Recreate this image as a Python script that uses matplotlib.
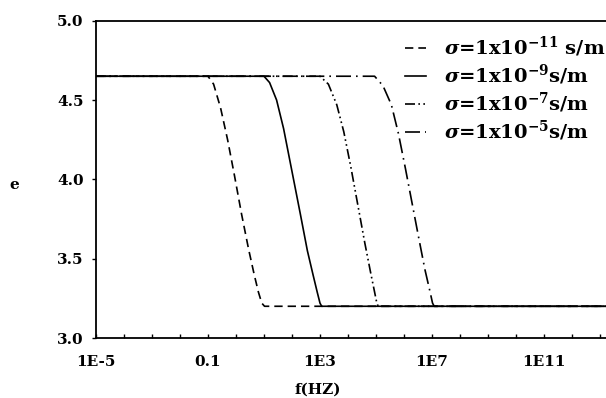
import numpy as np
import matplotlib
matplotlib.use('Agg')
import matplotlib.pyplot as plt

plt.rcParams['font.family'] = ['DejaVu Serif']
plt.rcParams['font.weight'] = 'bold'
plt.rcParams['mathtext.fontset'] = 'dejavuserif'
plt.rcParams['mathtext.default'] = 'bf'

# log10(f) and e, one pair per conductivity
logf_11 = [-5, -1.0, -0.8, -0.55, -0.3, -0.05, 0.2, 0.45, 0.65, 0.8, 0.92, 1.02, 13.5]
e_11 = [4.65, 4.65, 4.60, 4.45, 4.25, 4.02, 3.78, 3.56, 3.40, 3.29, 3.22, 3.20, 3.20]

logf_9 = [-5, 1.0, 1.2, 1.45, 1.7, 2.0, 2.3, 2.55, 2.75, 2.9, 3.0, 3.06, 13.5]
e_9 = [4.65, 4.65, 4.61, 4.50, 4.32, 4.05, 3.78, 3.55, 3.40, 3.29, 3.22, 3.20, 3.20]

logf_7 = [-5, 3.0, 3.3, 3.6, 3.85, 4.1, 4.35, 4.6, 4.8, 4.95, 5.03, 5.08, 13.5]
e_7 = [4.65, 4.65, 4.60, 4.47, 4.30, 4.08, 3.84, 3.60, 3.42, 3.29, 3.22, 3.20, 3.20]

logf_5 = [-5, 4.95, 5.25, 5.55, 5.8, 6.05, 6.3, 6.55, 6.75, 6.92, 7.02, 7.08, 13.5]
e_5 = [4.65, 4.65, 4.59, 4.47, 4.29, 4.07, 3.84, 3.61, 3.43, 3.30, 3.22, 3.20, 3.20]

labels = [r'$\mathbfit{\sigma}$=1x10$^{-11}$ s/m', r'$\mathbfit{\sigma}$=1x10$^{-9}$s/m',
          r'$\mathbfit{\sigma}$=1x10$^{-7}$s/m', r'$\mathbfit{\sigma}$=1x10$^{-5}$s/m']

xtick_exp = list(range(-5, 14))
xtick_text = {-5: '1E-5', -1: '0.1', 3: '1E3', 7: '1E7', 11: '1E11'}
yticks = [3.0, 3.5, 4.0, 4.5, 5.0]

fig = plt.figure(figsize=(6.06, 3.98), dpi=100)
ax = fig.add_axes([96 / 606, 60 / 398, 516 / 606, 317.3 / 398])

lw = 1.2
ax.plot(10.0 ** np.array(logf_5), e_5, color='black', lw=lw,
        dashes=(9, 3, 1, 3), label=labels[3])
ax.plot(10.0 ** np.array(logf_7), e_7, color='black', lw=lw,
        dashes=(6, 2, 1, 2, 1, 2), label=labels[2])
ax.plot(10.0 ** np.array(logf_9), e_9, color='black', lw=lw,
        linestyle='-', label=labels[1])
ax.plot(10.0 ** np.array(logf_11), e_11, color='black', lw=lw,
        dashes=(5, 3), label=labels[0])

ax.set_xscale('log')
ax.set_xlim(1e-5, 10 ** 13.43)
ax.set_ylim(3.0, 5.0)

ax.set_xticks([10.0 ** k for k in xtick_exp])
ax.set_xticklabels([xtick_text.get(k, '') for k in xtick_exp])
ax.xaxis.set_minor_locator(matplotlib.ticker.NullLocator())
ax.set_yticks(yticks)
ax.set_yticklabels(['%.1f' % v for v in yticks])

ax.tick_params(axis='x', direction='in', length=3, width=1, labelsize=11, pad=12)
ax.tick_params(axis='y', direction='out', length=3, width=1, labelsize=11, pad=6)
for s in ax.spines.values():
    s.set_linewidth(1.3)

fig.text(318 / 606, 1 - 390 / 398, 'f(HZ)', ha='center', va='center', fontsize=11)
fig.text(14 / 606, 1 - 185 / 398, 'e', ha='center', va='center', fontsize=11)

handles, labs = ax.get_legend_handles_labels()
order = [3, 2, 1, 0]
ax.legend([handles[i] for i in order], [labs[i] for i in order],
          loc='upper left', bbox_to_anchor=(405 / 606, 1 - 35 / 398),
          bbox_transform=fig.transFigure, frameon=False, fontsize=14,
          handlelength=1.1, handletextpad=0.9, labelspacing=0.2,
          borderpad=0, borderaxespad=0)

fig.savefig('out.png', dpi=100)
